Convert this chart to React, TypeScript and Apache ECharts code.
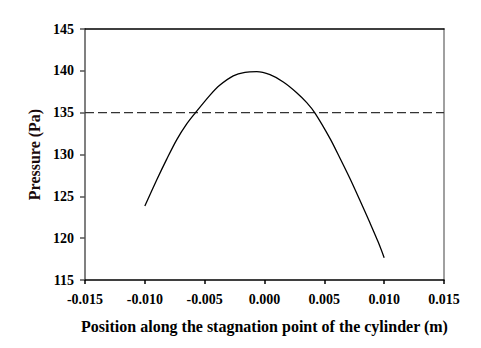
import React, { useEffect, useRef } from "react";
import * as echarts from "echarts";

const positions = [
  -0.01, -0.00901, -0.00817, -0.00734, -0.0065, -0.00581, -0.00455, -0.00372, -0.00261, -0.00163, -0.00065,
  0.00046, 0.00157, 0.00269, 0.00353, 0.00422, 0.00548, 0.00631, 0.00715, 0.00798, 0.00882, 0.00951, 0.01,
];
const pressures = [
  123.85, 126.95, 129.45, 131.75, 133.65, 134.92, 137.1, 138.3, 139.4, 139.82, 139.9,
  139.54, 138.67, 137.39, 136.2, 134.95, 131.9, 129.55, 127.1, 124.5, 121.8, 119.5, 117.67,
];
const referencePressure = 135;
const xTicks = [-0.015, -0.01, -0.005, 0, 0.005, 0.01, 0.015];
const xTitle = "Position along the stagnation point of the cylinder (m)";
const yTitle = "Pressure (Pa)";

const FONT = "'Liberation Serif', 'Times New Roman', serif";

export default function App() {
  const ref = useRef<HTMLDivElement>(null);
  useEffect(() => {
    if (!ref.current) return;
    const chart = echarts.init(ref.current, null, { renderer: "svg" });
    const curve = positions.map((x, i) => [x, pressures[i]]);
    chart.setOption({
      animation: false,
      backgroundColor: "#ffffff",
      grid: { left: 85, right: 37, top: 29, bottom: 68, containLabel: false },
      xAxis: [
        {
          type: "value",
          min: xTicks[0],
          max: xTicks[xTicks.length - 1],
          interval: 0.005,
          position: "bottom",
          name: xTitle,
          nameLocation: "middle",
          nameGap: 38,
          nameTextStyle: { fontFamily: FONT, fontWeight: "bold", fontSize: 16, color: "#000" },
          axisLine: { show: true, onZero: false, lineStyle: { color: "#000", width: 1.5 } },
          axisTick: { show: true, inside: false, length: 4, lineStyle: { color: "#000", width: 1.5 } },
          axisLabel: {
            margin: 12,
            fontFamily: FONT,
            fontWeight: "bold",
            fontSize: 14,
            color: "#000",
            formatter: (v: number) => v.toFixed(3),
          },
          splitLine: { show: false },
        },
        {
          type: "value",
          min: xTicks[0],
          max: xTicks[xTicks.length - 1],
          position: "top",
          axisLine: { show: true, onZero: false, lineStyle: { color: "#000", width: 1.5 } },
          axisTick: { show: false },
          axisLabel: { show: false },
          splitLine: { show: false },
        },
      ],
      yAxis: [
        {
          type: "value",
          min: 115,
          max: 145,
          interval: 5,
          position: "left",
          name: yTitle,
          nameLocation: "middle",
          nameGap: 43,
          nameRotate: 90,
          nameTextStyle: { fontFamily: FONT, fontWeight: "bold", fontSize: 16, color: "#1a0a0a" },
          axisLine: { show: true, onZero: false, lineStyle: { color: "#808080", width: 2 } },
          axisTick: { show: true, inside: false, length: 5, lineStyle: { color: "#555", width: 1.5 } },
          axisLabel: { margin: 11, fontFamily: FONT, fontWeight: "bold", fontSize: 14, color: "#000" },
          splitLine: { show: false },
        },
        {
          type: "value",
          min: 115,
          max: 145,
          position: "right",
          axisLine: { show: true, onZero: false, lineStyle: { color: "#808080", width: 1.5 } },
          axisTick: { show: false },
          axisLabel: { show: false },
          splitLine: { show: false },
        },
      ],
      series: [
        {
          type: "line",
          data: [
            [xTicks[0], referencePressure],
            [xTicks[xTicks.length - 1], referencePressure],
          ],
          showSymbol: false,
          lineStyle: { color: "#333", width: 1.2, type: [9, 4] },
          silent: true,
        },
        {
          type: "line",
          data: curve,
          smooth: 0.3,
          showSymbol: false,
          lineStyle: { color: "#000", width: 1.3 },
        },
      ],
    });
    return () => chart.dispose();
  }, []);
  return <div ref={ref} style={{ width: 481, height: 348, position: "absolute", left: 0, top: 0 }} />;
}
